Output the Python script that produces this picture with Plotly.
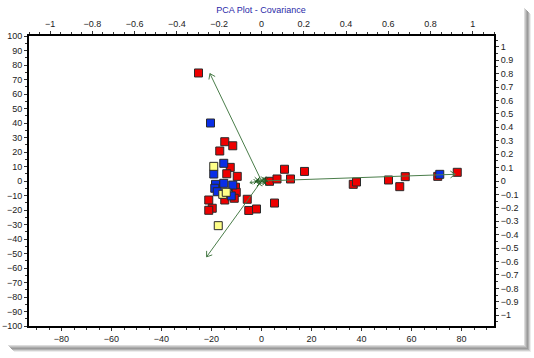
import math
import plotly.graph_objects as go

# ---- data: scores (bottom / left axes) ----
red_x = [-25.2, -14.7, -11.5, -16.7, -12.5, -13.9, -9.7, -10.4, -10.1, -10.9, -14.7, -21.1, -5.7,
         -19.7, -21.1, -5.1, -2.0, 5.2, 3.2, 6.2, 9.2, 11.6, 17.2, 36.7, 38.0, 50.8, 55.3, 57.5, 70.5, 78.3]
red_y = [74.5, 27.1, 24.3, 20.7, 9.4, 5.0, 3.2, -4.3, -7.8, -11.9, -13.1, -13.1, -12.6,
         -18.8, -20.2, -20.3, -19.3, -15.2, -0.2, 1.4, 8.1, 1.4, 6.6, -2.3, -0.7, 0.7, -3.9, 3.0, 3.2, 6.0]
blue_x = [-20.4, -15.1, -19.1, -18.4, -15.1, -11.5, -18.7, -17.7, -12.1, 71.3]
blue_y = [40.0, 12.2, 4.8, -2.3, -1.6, -2.8, -5.0, -7.4, -10.3, 4.6]
yellow_x = [-19.1, -15.5, -14.1, -17.3]
yellow_y = [10.1, -9.2, -7.8, -30.8]

# ---- data: loadings (top / right axes) ----
load_x = [-0.244, -0.26, 0.917, -0.055, -0.02, 0.015, -0.01, 0.02, -0.025, 0.01]
load_y = [0.80, -0.565, 0.05, -0.012, 0.01, -0.015, -0.02, 0.008, -0.005, 0.015]

x_ticks = [-80, -60, -40, -20, 0, 20, 40, 60, 80]
y_ticks = list(range(-100, 101, 10))
x2_ticks = [-1, -0.8, -0.6, -0.4, -0.2, 0, 0.2, 0.4, 0.6, 0.8, 1]
y2_ticks = [round(-1 + 0.1 * i, 1) for i in range(21)]

X_RANGE = [-93, 93]
Y_RANGE = [-100, 100]
X2_RANGE = [-1.1, 1.1]
Y2_RANGE = [-1.08, 1.08]

L, R, T, B = 29, 40, 36, 32
W, H = 534, 358
PW, PH = W - L - R, H - T - B

fig = go.Figure()

GREEN = "#4a7d4a"
sx = PW / (X2_RANGE[1] - X2_RANGE[0])
sy = PH / (Y2_RANGE[1] - Y2_RANGE[0])
lx, ly = [], []
for x, y in zip(load_x, load_y):
    lx += [0, x, None]
    ly += [0, y, None]
    dx, dy = x * sx, y * sy
    n = math.hypot(dx, dy)
    if n == 0:
        continue
    ux, uy = dx / n, dy / n
    hl = 6 if n > 20 else 3
    for a in (math.radians(35), -math.radians(35)):
        bx = -(ux * math.cos(a) - uy * math.sin(a)) * hl
        by = -(ux * math.sin(a) + uy * math.cos(a)) * hl
        lx += [x, x + bx / sx, None]
        ly += [y, y + by / sy, None]
fig.add_trace(go.Scatter(x=lx, y=ly, xaxis="x2", yaxis="y2", mode="lines",
                         line=dict(color=GREEN, width=1), hoverinfo="skip", showlegend=False))
fig.add_trace(go.Scatter(x=load_x[4:], y=load_y[4:], xaxis="x2", yaxis="y2", mode="markers",
                         marker=dict(symbol="x-thin", size=5, line=dict(color="#1f5a1f", width=1)),
                         showlegend=False))

mk = dict(symbol="square", size=8, line=dict(color="#2a2a2a", width=1))
fig.add_trace(go.Scatter(x=red_x, y=red_y, mode="markers", marker=dict(color="#ee0000", **mk), showlegend=False))
fig.add_trace(go.Scatter(x=blue_x, y=blue_y, mode="markers", marker=dict(color="#0a2ee6", **mk), showlegend=False))
fig.add_trace(go.Scatter(x=yellow_x, y=yellow_y, mode="markers", marker=dict(color="#ffff88", **mk), showlegend=False))

tf = dict(family="Liberation Sans, Arial", size=9, color="#222222")
common = dict(showgrid=False, zeroline=False, showline=True, linecolor="black", linewidth=2,
              ticks="outside", ticklen=3, tickcolor="#333", tickfont=tf, fixedrange=True,
              automargin=False)

fig.update_layout(
    width=W, height=H,
    margin=dict(l=L, r=R, t=T, b=B, autoexpand=False),
    paper_bgcolor="white", plot_bgcolor="white",
    title=dict(text="PCA Plot - Covariance", x=261 / W, xanchor="center", y=1 - 10 / H,
               yanchor="middle", font=dict(family="Liberation Sans, Arial", size=9, color="#2a2aa8"),
               automargin=False),
    xaxis=dict(range=X_RANGE, tickvals=x_ticks, minor=dict(dtick=5, ticks="outside", ticklen=2, tickcolor="#333"),
               **common),
    yaxis=dict(range=Y_RANGE, tickvals=y_ticks, minor=dict(dtick=5, ticks="outside", ticklen=2, tickcolor="#333"),
               **common),
    xaxis2=dict(range=X2_RANGE, tickvals=x2_ticks, overlaying="x", side="top", anchor="y",
                minor=dict(dtick=0.05, ticks="outside", ticklen=2, tickcolor="#333"), **common),
    yaxis2=dict(range=Y2_RANGE, tickvals=y2_ticks, overlaying="y", side="right", anchor="x",
                minor=dict(dtick=0.05, ticks="outside", ticklen=2, tickcolor="#333"), **common),
)

def px2paper(px, py):
    return (px - L) / PW, (H - B - py) / PH

shades = ["#dcdcdc", "#c4c4c4", "#acacac", "#9a9a9a", "#b0b0b0", "#d0d0d0", "#ececec"]
for i, c in enumerate(shades):
    x0, y0 = px2paper(524 + i, 8 + i)
    x1, y1 = px2paper(525 + i, 346 + i)
    fig.add_shape(type="rect", xref="paper", yref="paper", x0=x0, x1=x1, y0=y0, y1=y1,
                  fillcolor=c, line=dict(width=0), layer="below")
    x0, y0 = px2paper(8 + i, 345 + i)
    x1, y1 = px2paper(525 + i, 346 + i)
    fig.add_shape(type="rect", xref="paper", yref="paper", x0=x0, x1=x1, y0=y0, y1=y1,
                  fillcolor=c, line=dict(width=0), layer="below")

fig.write_html("out.html", config={"displayModeBar": False},
               post_script="document.body.style.margin='0px';document.body.style.overflow='hidden';")
